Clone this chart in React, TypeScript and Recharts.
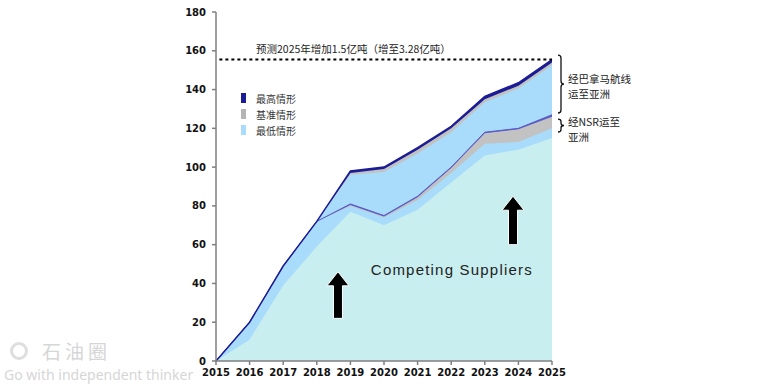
import React from "react";
import {
  ComposedChart,
  Area,
  Line,
  XAxis,
  YAxis,
  ReferenceLine,
  ReferenceArea,
  ReferenceDot,
  Legend,
} from "recharts";

// 数据（单位：百万吨）
const years = [2015, 2016, 2017, 2018, 2019, 2020, 2021, 2022, 2023, 2024, 2025];
const competing = [0, 11, 39, 59, 77, 70, 78, 92, 106, 109, 115];
const nsrLow = [0, 20, 49, 72, 80, 74, 83, 97, 112, 113, 120];
const nsrBase = [0, 20, 49, 72, 80.5, 74.5, 84.5, 99.5, 117.5, 119.5, 126];
const nsrHigh = [0, 20, 49, 72, 81, 75, 85, 100, 118, 120, 127];
const panamaLow = [0, 20, 49, 72, 96, 97.5, 107, 118, 133.5, 140.5, 152.5];
const panamaBase = [0, 20, 49, 72, 97, 99, 109, 120, 135, 142, 154];
const panamaHigh = [0, 20, 49, 72, 98, 100, 110, 121, 136.5, 143.5, 155.5];
const yTicks = [0, 20, 40, 60, 80, 100, 120, 140, 160, 180];

const legendItems = [
  { label: "最高情形", color: "#1c1c96" },
  { label: "基准情形", color: "#b4b4b4" },
  { label: "最低情形", color: "#a9dcfa" },
];
const forecastNote = "预测2025年增加1.5亿吨（增至3.28亿吨）";
const forecastLevel = 155.5;
const panamaLines = ["经巴拿马航线", "运至亚洲"];
const nsrLines = ["经NSR运至", "亚洲"];

const NAVY = "#1c1c96";
const PURPLE = "#5a5ac8";
const GRAY = "#c2c2c2";
const LIGHT_BLUE = "#a9dcfa";
const CYAN = "#c9eef0";
const CJK = "'Noto Sans CJK SC', sans-serif";

const data = years.map((year, i) => ({
  year,
  competing: competing[i],
  nsrLow: nsrLow[i],
  nsrBase: nsrBase[i],
  nsrHigh: nsrHigh[i],
  panamaLow: panamaLow[i],
  panamaBase: panamaBase[i],
  panamaHigh: panamaHigh[i],
}));

function ArrowShape(props: any) {
  const { x, y, width, height } = props;
  const cx = x + width / 2;
  const head = 14;
  const headW = 11;
  const shaftW = 4.5;
  const bottom = y + height;
  const d = `M${cx},${y} L${cx + headW},${y + head} L${cx + shaftW},${y + head} L${cx + shaftW},${bottom} L${cx - shaftW},${bottom} L${cx - shaftW},${y + head} L${cx - headW},${y + head} Z`;
  return <path d={d} fill="#000" stroke="#fff" strokeWidth={1} />;
}

function braceShape(lines: string[], firstLineOffset: number) {
  return (props: any) => {
    const { x, y, width, height } = props;
    const bx = x + width + 6;
    const top = y;
    const bot = y + height;
    const mid = y + height / 2;
    const r = Math.min(3, height / 6);
    const d = `M${bx},${top} Q${bx + 3},${top} ${bx + 3},${top + r} L${bx + 3},${mid - r} Q${bx + 3},${mid} ${bx + 6},${mid} Q${bx + 3},${mid} ${bx + 3},${mid + r} L${bx + 3},${bot - r} Q${bx + 3},${bot} ${bx},${bot}`;
    return (
      <g>
        <path d={d} fill="none" stroke="#111" strokeWidth={1.3} />
        {lines.map((t, i) => (
          <text
            key={t}
            x={bx + 10}
            y={mid + firstLineOffset + i * 15}
            dominantBaseline="central"
            fontFamily={CJK}
            fontSize={10.5}
            fill="#222"
          >
            {t}
          </text>
        ))}
      </g>
    );
  };
}

function textShape(text: string, size: number, family: string, spacing = 0) {
  return (props: any) => (
    <text
      x={props.cx}
      y={props.cy}
      textAnchor="middle"
      dominantBaseline="central"
      fontFamily={family}
      fontSize={size}
      letterSpacing={spacing}
      fill="#222"
    >
      {text}
    </text>
  );
}

function LegendContent() {
  return (
    <div style={{ fontFamily: CJK, fontSize: 10, color: "#333" }}>
      {legendItems.map((it) => (
        <div key={it.label} style={{ display: "flex", alignItems: "center", height: 16 }}>
          <span style={{ display: "inline-block", width: 5, height: 10, background: it.color, marginRight: 10 }} />
          <span>{it.label}</span>
        </div>
      ))}
    </div>
  );
}

const tickStyle = { fontSize: 10, fontWeight: 700, fill: "#111", fontFamily: "'DejaVu Sans', sans-serif" };

export default function App() {
  return (
    <div style={{ position: "absolute", left: 0, top: 0, width: 775, height: 388, background: "#fff" }}>
      <div style={{ position: "absolute", left: 0, top: 0 }}>
        <ComposedChart
          width={775}
          height={388}
          data={data}
          margin={{ top: 12, right: 223, bottom: 0, left: 0 }}
        >
          <XAxis
            dataKey="year"
            type="number"
            domain={[2015, 2025]}
            ticks={years}
            interval={0}
            height={27}
            tick={tickStyle}
            tickSize={4}
            tickMargin={4}
            axisLine={{ stroke: "#7f7f7f", strokeWidth: 1.5 }}
            tickLine={{ stroke: "#7f7f7f", strokeWidth: 1.5 }}
          />
          <YAxis
            type="number"
            domain={[0, 180]}
            ticks={yTicks}
            interval={0}
            width={216}
            tick={tickStyle}
            tickSize={4}
            tickMargin={6}
            axisLine={{ stroke: "#7f7f7f", strokeWidth: 1.5 }}
            tickLine={{ stroke: "#7f7f7f", strokeWidth: 1.5 }}
          />
          <Legend
            layout="vertical"
            align="center"
            verticalAlign="middle"
            content={<LegendContent />}
            wrapperStyle={{ left: 241, top: 90, width: 80 }}
          />
          <Area type="linear" dataKey="panamaHigh" fill={NAVY} fillOpacity={1} stroke="none" isAnimationActive={false} />
          <Area type="linear" dataKey="panamaBase" fill={GRAY} fillOpacity={1} stroke="none" isAnimationActive={false} />
          <Area type="linear" dataKey="panamaLow" fill={LIGHT_BLUE} fillOpacity={1} stroke="none" isAnimationActive={false} />
          <Area type="linear" dataKey="nsrHigh" fill={PURPLE} fillOpacity={1} stroke="none" isAnimationActive={false} />
          <Area type="linear" dataKey="nsrBase" fill={GRAY} fillOpacity={1} stroke="none" isAnimationActive={false} />
          <Area type="linear" dataKey="nsrLow" fill={LIGHT_BLUE} fillOpacity={1} stroke="none" isAnimationActive={false} />
          <Area type="linear" dataKey="competing" fill={CYAN} fillOpacity={1} stroke="none" isAnimationActive={false} />
          <Line type="linear" dataKey="nsrHigh" stroke={PURPLE} strokeWidth={1} dot={false} isAnimationActive={false} />
          <Line type="linear" dataKey="panamaHigh" stroke={NAVY} strokeWidth={1.5} dot={false} isAnimationActive={false} />
          <ReferenceLine
            segment={[
              { x: 2015.1, y: forecastLevel },
              { x: 2025, y: forecastLevel },
            ]}
            stroke="#000"
            strokeWidth={2}
            strokeDasharray="3 3"
          />
          <ReferenceDot x={2019.09} y={161.4} r={0} shape={textShape(forecastNote, 10.5, CJK)} />
          <ReferenceDot
            x={2022.02}
            y={47.4}
            r={0}
            shape={textShape("Competing Suppliers", 15, "'Liberation Sans', Arial, sans-serif", 1.2)}
          />
          <ReferenceArea x1={2018.5} x2={2018.76} y1={22} y2={46} shape={ArrowShape} />
          <ReferenceArea x1={2023.71} x2={2023.97} y1={60} y2={85} shape={ArrowShape} />
          <ReferenceArea x1={2024.8} x2={2025} y1={127.9} y2={157.8} shape={braceShape(panamaLines, -5.5)} />
          <ReferenceArea x1={2024.8} x2={2025} y1={118.1} y2={124.8} shape={braceShape(nsrLines, -4)} />
        </ComposedChart>
      </div>
      {/* 水印 */}
      <div
        style={{
          position: "absolute",
          left: 4,
          top: 340,
          color: "#d6d6d6",
          fontFamily: "'Noto Sans', sans-serif",
          pointerEvents: "none",
        }}
      >
        <div style={{ display: "flex", alignItems: "center", height: 22, paddingLeft: 6 }}>
          <span
            style={{
              display: "inline-block",
              width: 18,
              height: 18,
              borderRadius: 9,
              border: "3px solid #dedede",
              boxSizing: "border-box",
              marginRight: 14,
            }}
          />
          <span style={{ fontFamily: CJK, fontSize: 19, lineHeight: "22px", letterSpacing: 4 }}>石油圈</span>
        </div>
        <div style={{ fontSize: 14, lineHeight: "18px", marginTop: 4 }}>Go with independent thinker</div>
      </div>
    </div>
  );
}
